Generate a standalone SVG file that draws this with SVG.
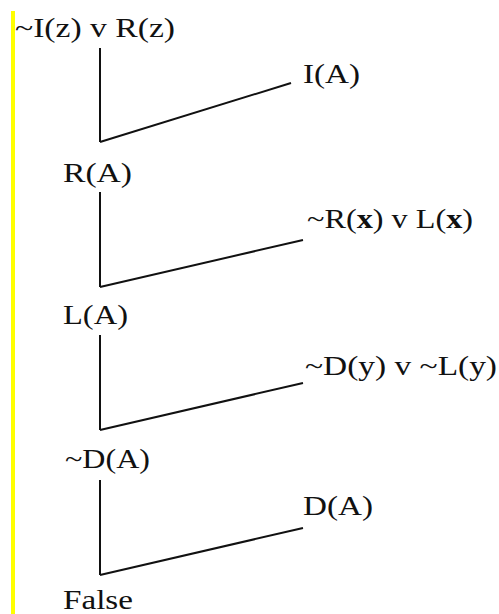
<svg xmlns="http://www.w3.org/2000/svg" width="499" height="614" viewBox="0 0 499 614">
<style>
text{font-family:"Liberation Serif","Times New Roman",serif;font-size:28px;fill:#111}
.b{font-weight:bold}
.c line{stroke:#111;stroke-width:2;fill:none}
</style>
<rect width="499" height="614" fill="#fff"/>
<rect id="bar" x="11" y="11" width="4" height="603" fill="#ffff00"/>
<g id="connectors" class="c">
<line x1="100" y1="48" x2="100" y2="142"/>
<line x1="100" y1="142" x2="291" y2="83"/>
<line x1="100" y1="192" x2="100" y2="287"/>
<line x1="100" y1="287" x2="303" y2="240"/>
<line x1="100" y1="335" x2="100" y2="430"/>
<line x1="100" y1="430" x2="303" y2="383"/>
<line x1="100" y1="480" x2="100" y2="575"/>
<line x1="100" y1="575" x2="303" y2="528"/>
</g>
<g id="n1"><text x="15" y="37" textLength="160" lengthAdjust="spacingAndGlyphs">~I(z) v R(z)</text></g>
<g id="n2"><text x="303" y="83" textLength="57" lengthAdjust="spacingAndGlyphs">I(A)</text></g>
<g id="n3"><text x="63" y="182" textLength="69" lengthAdjust="spacingAndGlyphs">R(A)</text></g>
<g id="n4"><text x="307" y="228" textLength="166" lengthAdjust="spacingAndGlyphs">~R(<tspan class="b">x</tspan>) v L(<tspan class="b">x</tspan>)</text></g>
<g id="n5"><text x="63" y="324" textLength="65" lengthAdjust="spacingAndGlyphs">L(A)</text></g>
<g id="n6"><text x="305" y="375" textLength="192" lengthAdjust="spacingAndGlyphs">~D(y) v ~L(y)</text></g>
<g id="n7"><text x="65" y="468" textLength="85" lengthAdjust="spacingAndGlyphs">~D(A)</text></g>
<g id="n8"><text x="303" y="515" textLength="70" lengthAdjust="spacingAndGlyphs">D(A)</text></g>
<g id="n9"><text x="63" y="609" textLength="70" lengthAdjust="spacingAndGlyphs">False</text></g>
</svg>
